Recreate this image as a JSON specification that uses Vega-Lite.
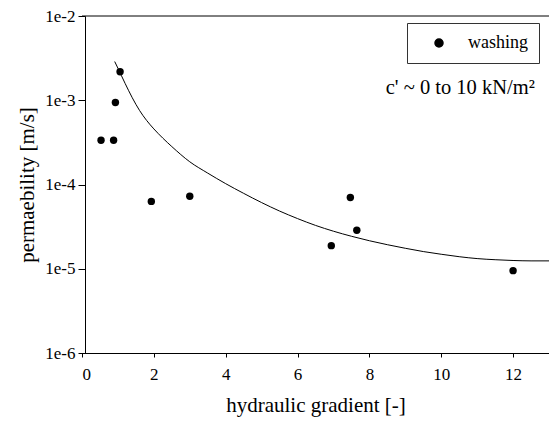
{
  "$schema": "https://vega.github.io/schema/vega-lite/v6.json",
  "width": 467,
  "height": 337,
  "autosize": {"type": "none"},
  "padding": {"left": 82, "top": 16, "right": 0, "bottom": 68},
  "background": "white",
  "config": {
    "font": "Liberation Serif",
    "view": {"stroke": null},
    "axis": {
      "grid": false,
      "domainColor": "black",
      "tickColor": "black",
      "labelColor": "black",
      "titleColor": "black",
      "labelFont": "Liberation Serif",
      "titleFont": "Liberation Serif",
      "labelFontSize": 17,
      "titleFontSize": 21,
      "titleFontWeight": "normal"
    }
  },
  "datasets": {
    "points": [
      {"x": 0.53, "y": 0.000335, "series": "washing"},
      {"x": 0.88, "y": 0.000335, "series": "washing"},
      {"x": 0.93, "y": 0.00094, "series": "washing"},
      {"x": 1.06, "y": 0.00218, "series": "washing"},
      {"x": 1.93, "y": 0.000063, "series": "washing"},
      {"x": 3.0, "y": 0.0000725, "series": "washing"},
      {"x": 6.94, "y": 0.0000188, "series": "washing"},
      {"x": 7.47, "y": 0.00007, "series": "washing"},
      {"x": 7.65, "y": 0.0000287, "series": "washing"},
      {"x": 12.0, "y": 0.0000095, "series": "washing"}
    ],
    "curve": [
      {"x": 0.91, "y": 0.00288},
      {"x": 1.0, "y": 0.0024},
      {"x": 1.2, "y": 0.001585},
      {"x": 1.4, "y": 0.00107},
      {"x": 1.6, "y": 0.000759},
      {"x": 1.8, "y": 0.000575},
      {"x": 2.0, "y": 0.000457},
      {"x": 2.25, "y": 0.000355},
      {"x": 2.5, "y": 0.000282},
      {"x": 3.0, "y": 0.000186},
      {"x": 3.5, "y": 0.0001365},
      {"x": 4.0, "y": 0.0001023},
      {"x": 4.5, "y": 0.0000785},
      {"x": 5.0, "y": 0.000061},
      {"x": 5.5, "y": 0.0000484},
      {"x": 6.0, "y": 0.0000394},
      {"x": 6.5, "y": 0.0000327},
      {"x": 7.0, "y": 0.0000279},
      {"x": 7.5, "y": 0.0000243},
      {"x": 8.0, "y": 0.0000215},
      {"x": 8.5, "y": 0.0000193},
      {"x": 9.0, "y": 0.0000175},
      {"x": 9.5, "y": 0.000016},
      {"x": 10.0, "y": 0.00001486},
      {"x": 10.5, "y": 0.0000139},
      {"x": 11.0, "y": 0.0000132},
      {"x": 11.5, "y": 0.0000128},
      {"x": 12.0, "y": 0.00001253},
      {"x": 12.5, "y": 0.0000124},
      {"x": 13.0, "y": 0.0000124}
    ],
    "note": [
      {"x": 10.53, "y": 0.00138, "label": "c' ~ 0 to 10 kN/m²"}
    ],
    "frame": [
      {"y": 0.01}
    ]
  },
  "encoding": {
    "x": {
      "field": "x",
      "type": "quantitative",
      "scale": {"domain": [0, 13], "nice": false, "zero": false},
      "axis": {
        "title": "hydraulic gradient [-]",
        "values": [0, 2, 4, 6, 8, 10, 12],
        "labelFont": "Liberation Serif",
        "titleFont": "Liberation Serif",
        "tickSize": 4,
        "labelPadding": 9,
        "titlePadding": 12
      }
    },
    "y": {
      "field": "y",
      "type": "quantitative",
      "scale": {"type": "log", "domain": [0.000001, 0.01], "nice": false},
      "axis": {
        "title": "permaebility [m/s]",
        "values": [0.000001, 0.00001, 0.0001, 0.001, 0.01],
        "format": ".0e",
        "labelFont": "Liberation Serif",
        "titleFont": "Liberation Serif",
        "offset": -3,
        "tickSize": 7,
        "labelPadding": 3,
        "titlePadding": 7
      }
    }
  },
  "layer": [
    {
      "data": {"name": "frame"},
      "mark": {"type": "rule", "color": "black", "strokeWidth": 1},
      "encoding": {
        "x": null,
        "y": {"field": "y", "type": "quantitative"}
      }
    },
    {
      "data": {"name": "curve"},
      "mark": {"type": "line", "color": "black", "strokeWidth": 1, "interpolate": "monotone"}
    },
    {
      "data": {"name": "points"},
      "mark": {"type": "point", "filled": true, "size": 55, "opacity": 1},
      "encoding": {
        "color": {
          "field": "series",
          "type": "nominal",
          "scale": {"range": ["black"]},
          "legend": {
            "orient": "none",
            "legendX": 325,
            "legendY": 7,
            "title": null,
            "strokeColor": "#333",
            "fillColor": "white",
            "padding": 11,
            "symbolOffset": 12,
            "labelOffset": 20,
            "labelFontSize": 18,
            "labelFont": "Liberation Serif",
            "labelColor": "black",
            "symbolSize": 64,
            "symbolType": "circle",
            "symbolFillColor": "black",
            "symbolStrokeColor": "black"
          }
        }
      }
    },
    {
      "data": {"name": "note"},
      "mark": {"type": "text", "font": "Liberation Serif", "fontSize": 20.5, "align": "center", "baseline": "middle", "color": "black"},
      "encoding": {
        "text": {"field": "label", "type": "nominal"}
      }
    }
  ]
}
